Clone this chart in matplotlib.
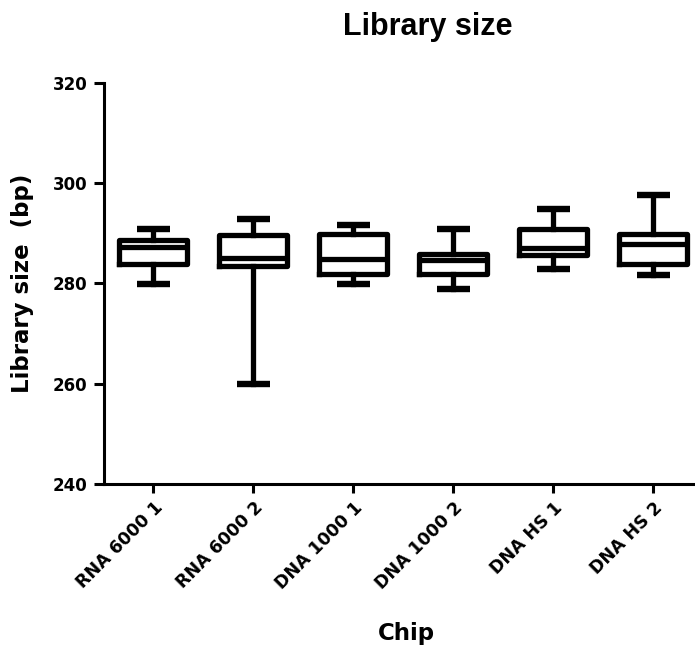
import matplotlib
matplotlib.use("Agg")
import matplotlib.pyplot as plt

plt.rcParams['font.family'] = ['DejaVu Sans']
plt.rcParams['font.weight'] = 'bold'

chips = ['RNA 6000 1', 'RNA 6000 2', 'DNA 1000 1', 'DNA 1000 2', 'DNA HS 1', 'DNA HS 2']
whis_lo = [279.8, 259.9, 279.8, 279.0, 282.9, 281.7]
q1 = [283.8, 283.4, 281.8, 281.8, 285.7, 283.8]
median = [287.2, 285.0, 284.9, 284.7, 287.1, 287.9]
q3 = [288.7, 289.6, 289.8, 285.9, 290.9, 289.8]
whis_hi = [290.9, 292.9, 291.7, 290.9, 294.9, 297.7]

stats = []
for i in range(len(chips)):
    stats.append({'label': chips[i], 'whislo': whis_lo[i], 'q1': q1[i], 'med': median[i],
                  'q3': q3[i], 'whishi': whis_hi[i], 'fliers': []})

fig = plt.figure(figsize=(6.95, 6.5), dpi=100)
ax = fig.add_axes([0.1496, 0.2554, 0.8504, 0.6169])

lw = 3.8
ax.bxp(stats, positions=range(1, 7), widths=0.68, capwidths=0.33, showfliers=False,
       boxprops=dict(color='black', linewidth=lw),
       medianprops=dict(color='black', linewidth=lw, solid_capstyle='butt'),
       whiskerprops=dict(color='black', linewidth=lw),
       capprops=dict(color='black', linewidth=4.6, solid_capstyle='butt'))

ax.set_xlim(0.505, 6.415)
ax.set_ylim(240, 320)
ax.set_yticks([240, 260, 280, 300, 320])
ax.set_xticks(range(1, 7))
ax.set_xticklabels(chips, rotation=45, ha='right', rotation_mode='anchor', fontsize=12.5, fontweight='bold')
ax.tick_params(axis='y', labelsize=12, width=2.2, length=7, pad=5)
ax.tick_params(axis='x', width=2.2, length=6.5, pad=4)
for lab in ax.get_yticklabels():
    lab.set_fontweight('bold')

ax.spines['top'].set_visible(False)
ax.spines['right'].set_visible(False)
ax.spines['left'].set_linewidth(2.2)
ax.spines['bottom'].set_linewidth(2.2)

ax.set_ylabel('Library size  (bp)', fontsize=16.5, fontweight='bold')
ax.yaxis.set_label_coords(-0.118, 0.5)
ax.set_xlabel('Chip', fontsize=16.5, fontweight='bold')
ax.xaxis.set_label_coords(0.511, -0.344)
fig.text(0.615, 0.946, 'Library size', fontsize=22, fontweight='bold', ha='center', va='baseline',
         family='Liberation Sans')

fig.savefig('out.png', dpi=100)
